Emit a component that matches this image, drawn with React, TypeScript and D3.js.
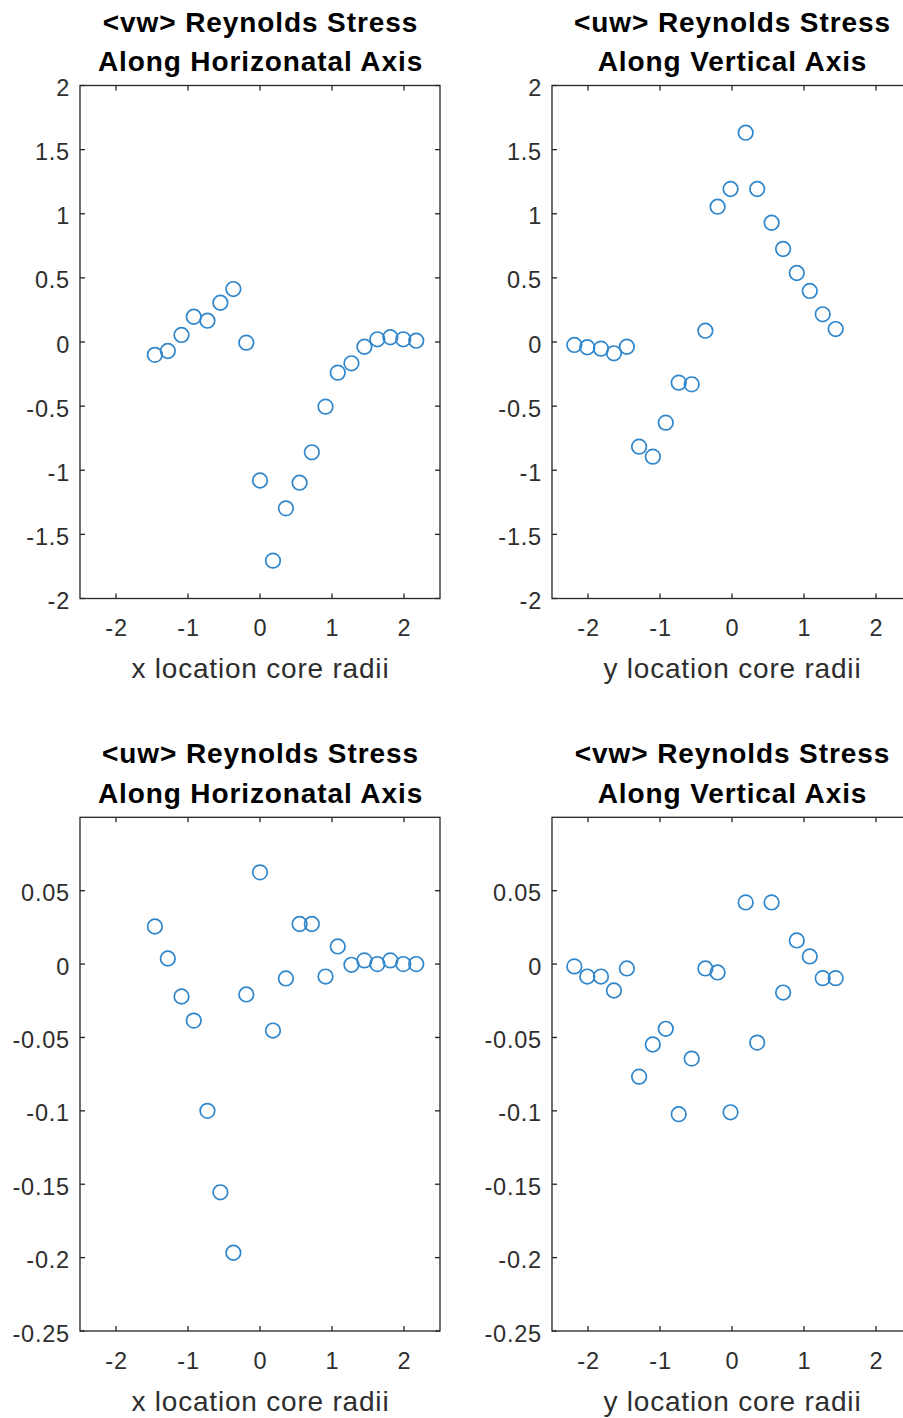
import React from "react";
import * as d3 from "d3";

// x positions (core radii)
const xHoriz = [-1.46, -1.28, -1.09, -0.92, -0.73, -0.55, -0.37, -0.19, 0, 0.18, 0.36, 0.55, 0.72, 0.91, 1.08, 1.27, 1.45, 1.63, 1.81, 1.99, 2.17];
const xVert = [-2.19, -2.01, -1.82, -1.64, -1.46, -1.29, -1.1, -0.92, -0.74, -0.56, -0.37, -0.2, -0.02, 0.19, 0.35, 0.55, 0.71, 0.9, 1.08, 1.26, 1.44];

// series values
const vwHoriz = [-0.1, -0.07, 0.055, 0.197, 0.166, 0.306, 0.413, -0.005, -1.08, -1.705, -1.297, -1.097, -0.86, -0.504, -0.239, -0.166, -0.037, 0.021, 0.037, 0.021, 0.01];
const uwVert = [-0.023, -0.041, -0.052, -0.088, -0.037, -0.816, -0.894, -0.629, -0.317, -0.33, 0.088, 1.055, 1.193, 1.632, 1.193, 0.93, 0.725, 0.538, 0.398, 0.216, 0.101];
const uwHoriz = [0.0256, 0.0038, -0.0221, -0.0385, -0.1, -0.1555, -0.1967, -0.0207, 0.0625, -0.0453, -0.0098, 0.0273, 0.0273, -0.0085, 0.012, -0.0005, 0.0025, 0, 0.0025, 0, 0];
const vwVert = [-0.0016, -0.0085, -0.0085, -0.018, -0.003, -0.0767, -0.0548, -0.0441, -0.1023, -0.0644, -0.003, -0.0057, -0.101, 0.042, -0.0535, 0.042, -0.0194, 0.0161, 0.0052, -0.0096, -0.0096];

// tick values
const xTicks = [-2, -1, 0, 1, 2];
const yTicksTop = [-2, -1.5, -1, -0.5, 0, 0.5, 1, 1.5, 2];
const yTicksBottom = [-0.25, -0.2, -0.15, -0.1, -0.05, 0, 0.05];

const FONT = "'Liberation Sans', Arial, Helvetica, sans-serif";
const AX = "#262626";
const MARK = "#2f86cb";

type PanelProps = {
  left: number; right: number; top: number; bottom: number;
  xDomain: [number, number]; yDomain: [number, number];
  yTicks: number[]; xs: number[]; ys: number[];
  title: [string, string]; xlabel: string;
};

const fmt = (v: number) => String(+v.toFixed(2));

function Panel(p: PanelProps) {
  const x = d3.scaleLinear().domain(p.xDomain).range([p.left, p.right]);
  const y = d3.scaleLinear().domain(p.yDomain).range([p.bottom, p.top]);
  const cx = (p.left + p.right) / 2;
  const tl = 5;
  return (
    <g>
      {/* titles */}
      <text x={cx + 0.5} y={p.top - 54} textAnchor="middle" fontFamily={FONT} fontWeight="bold" fontSize={28} letterSpacing={0.9} fill="#000">{p.title[0]}</text>
      <text x={cx + 0.5} y={p.top - 14.5} textAnchor="middle" fontFamily={FONT} fontWeight="bold" fontSize={28} letterSpacing={0.9} fill="#000">{p.title[1]}</text>
      {/* points */}
      {p.xs.map((xv, i) => (
        <circle key={i} cx={x(xv)} cy={y(p.ys[i])} r={7.3} fill="none" stroke={MARK} strokeWidth={1.7} />
      ))}
      {/* frame */}
      <rect x={p.left} y={p.top} width={p.right - p.left} height={p.bottom - p.top} fill="none" stroke={AX} strokeWidth={1.3} />
      {/* x ticks */}
      {xTicks.map((t) => (
        <g key={"x" + t}>
          <line x1={x(t)} x2={x(t)} y1={p.bottom} y2={p.bottom - tl} stroke={AX} strokeWidth={1.3} />
          <line x1={x(t)} x2={x(t)} y1={p.top} y2={p.top + tl} stroke={AX} strokeWidth={1.3} />
          <text x={x(t) + 0.5} y={p.bottom + 37.5} textAnchor="middle" fontFamily={FONT} fontSize={23.5} letterSpacing={0.8} fill="#2e2e2e">{fmt(t)}</text>
        </g>
      ))}
      {/* y ticks */}
      {p.yTicks.map((t) => (
        <g key={"y" + t}>
          <line x1={p.left} x2={p.left + tl} y1={y(t)} y2={y(t)} stroke={AX} strokeWidth={1.3} />
          <line x1={p.right} x2={p.right - tl} y1={y(t)} y2={y(t)} stroke={AX} strokeWidth={1.3} />
          <text x={p.left - 10} y={y(t) + 2.5} textAnchor="end" dominantBaseline="central" fontFamily={FONT} fontSize={23.5} letterSpacing={0.8} fill="#2e2e2e">{fmt(t)}</text>
        </g>
      ))}
      {/* x label */}
      <text x={cx + 0.4} y={p.bottom + 79.5} textAnchor="middle" fontFamily={FONT} fontSize={28} letterSpacing={0.8} fill="#2e2e2e">{p.xlabel}</text>
    </g>
  );
}

export default function App() {
  return (
    <svg width={903} height={1418} style={{ position: "absolute", left: 0, top: 0, background: "#fff", overflow: "hidden" }}>
      <rect x={0} y={0} width={903} height={1418} fill="#fff" />
      <Panel left={80} right={440} top={85.5} bottom={598.5} xDomain={[-2.5, 2.5]} yDomain={[-2, 2]} yTicks={yTicksTop}
        xs={xHoriz} ys={vwHoriz} title={["<vw> Reynolds Stress", "Along Horizonatal Axis"]} xlabel="x location core radii" />
      <Panel left={552} right={912} top={85.5} bottom={598.5} xDomain={[-2.5, 2.5]} yDomain={[-2, 2]} yTicks={yTicksTop}
        xs={xVert} ys={uwVert} title={["<uw> Reynolds Stress", "Along Vertical Axis"]} xlabel="y location core radii" />
      <Panel left={80} right={440} top={817.3} bottom={1331} xDomain={[-2.5, 2.5]} yDomain={[-0.25, 0.1]} yTicks={yTicksBottom}
        xs={xHoriz} ys={uwHoriz} title={["<uw> Reynolds Stress", "Along Horizonatal Axis"]} xlabel="x location core radii" />
      <Panel left={552} right={912} top={817.3} bottom={1331} xDomain={[-2.5, 2.5]} yDomain={[-0.25, 0.1]} yTicks={yTicksBottom}
        xs={xVert} ys={vwVert} title={["<vw> Reynolds Stress", "Along Vertical Axis"]} xlabel="y location core radii" />
    </svg>
  );
}
